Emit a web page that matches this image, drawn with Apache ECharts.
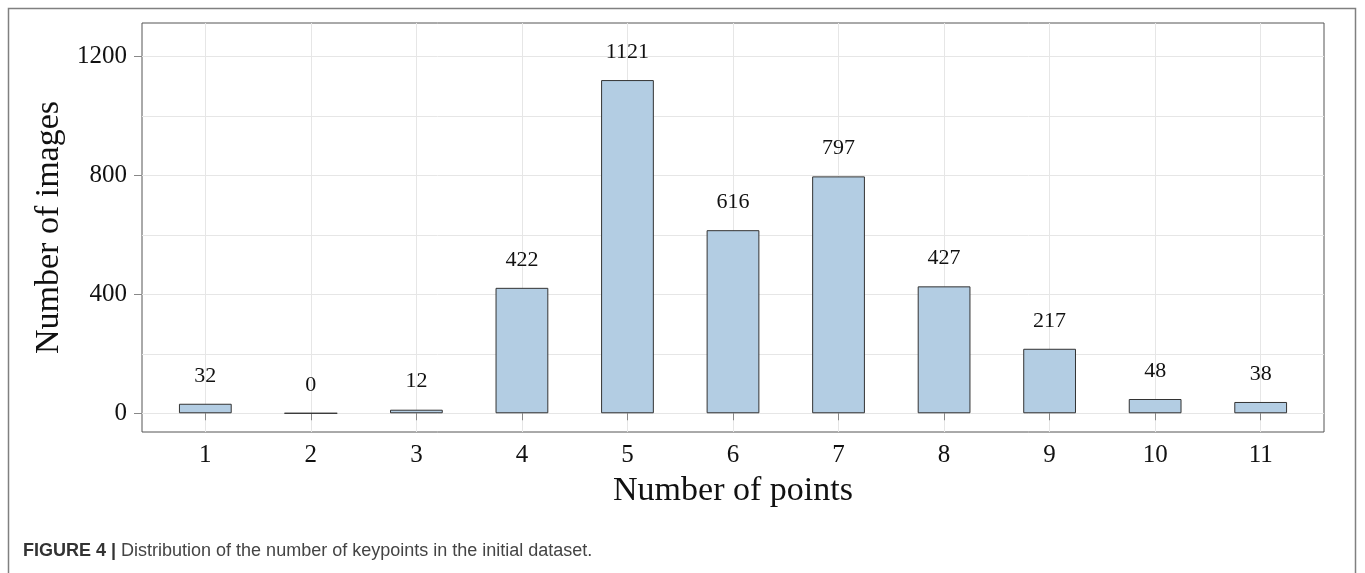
<!DOCTYPE html>
<html>
<head>
<meta charset="utf-8">
<script src="https://cdn.jsdelivr.net/npm/echarts@6/dist/echarts.min.js"></script>
<style>html,body{margin:0;padding:0;background:#fff;}#c{width:1365px;height:573px;}</style>
</head>
<body>
<div id="c"></div>
<script>
const categories = [1, 2, 3, 4, 5, 6, 7, 8, 9, 10, 11];
const counts = [32, 0, 12, 422, 1121, 616, 797, 427, 217, 48, 38];
const yTicks = [0, 400, 800, 1200];
const yGridValues = [0, 200, 400, 600, 800, 1000, 1200];
const xTitle = 'Number of points';
const yTitle = 'Number of images';
const caption = '{b|FIGURE 4 |} Distribution of the number of keypoints in the initial dataset.';

const serif = '"Liberation Serif", "DejaVu Serif", serif';
const sans = '"Liberation Sans", Arial, sans-serif';
const chart = echarts.init(document.getElementById('c'));
chart.setOption({
  animation: false,
  backgroundColor: '#fff',
  grid: {
    left: 142, top: 23, right: 41, bottom: 141,
    show: true, borderColor: '#555', borderWidth: 1, backgroundColor: 'transparent'
  },
  xAxis: {
    type: 'value', min: 0.4, max: 11.6,
    name: xTitle, nameLocation: 'middle', nameGap: 42,
    nameTextStyle: { fontFamily: serif, fontSize: 34, color: '#111' },
    axisLine: { show: false },
    axisTick: { show: true, length: 7, customValues: categories, lineStyle: { color: '#888' } },
    axisLabel: { customValues: categories, margin: 11, fontFamily: serif, fontSize: 25, color: '#111', formatter: v => String(v) },
    splitLine: { show: true, lineStyle: { color: '#e6e6e6', width: 1 } }
  },
  yAxis: [{
    type: 'value', min: -63, max: 1313,
    name: yTitle, nameLocation: 'middle', nameGap: 67,
    nameTextStyle: { fontFamily: serif, fontSize: 34, color: '#111' },
    axisLine: { show: false },
    axisTick: { show: true, length: 8, customValues: yTicks, lineStyle: { color: '#888' } },
    axisLabel: { customValues: yTicks, margin: 15, fontFamily: serif, fontSize: 25, color: '#111', formatter: v => String(v) },
    splitLine: { show: false }
  }, {
    type: 'value', min: -63, max: 1313, position: 'left',
    axisLine: { show: false },
    axisTick: { show: false, customValues: yGridValues },
    axisLabel: { show: false, customValues: yGridValues },
    splitLine: { show: true, lineStyle: { color: '#e6e6e6', width: 1 } }
  }],
  series: [{
    type: 'bar',
    yAxisIndex: 0,
    barWidth: '50%',
    data: categories.map((c, i) => [c, counts[i]]),
    itemStyle: { color: '#b3cde3', borderColor: '#333', borderWidth: 1 },
    label: {
      show: true, position: 'top', distance: 17,
      fontFamily: serif, fontSize: 22, color: '#111',
      formatter: p => String(p.value[1])
    },
    z: 3
  }],
  graphic: [
    {
      type: 'rect', silent: true,
      shape: { x: 8.5, y: 8.5, width: 1347, height: 620 },
      style: { fill: 'none', stroke: '#808080', lineWidth: 1.5 }
    },
    {
      type: 'text', left: 23, top: 542,
      style: {
        text: caption,
        font: '18px ' + sans,
        fill: '#444',
        rich: { b: { fontWeight: 'bold', fontSize: 18, fontFamily: sans, fill: '#333' } }
      }
    }
  ]
});
</script>
</body>
</html>
